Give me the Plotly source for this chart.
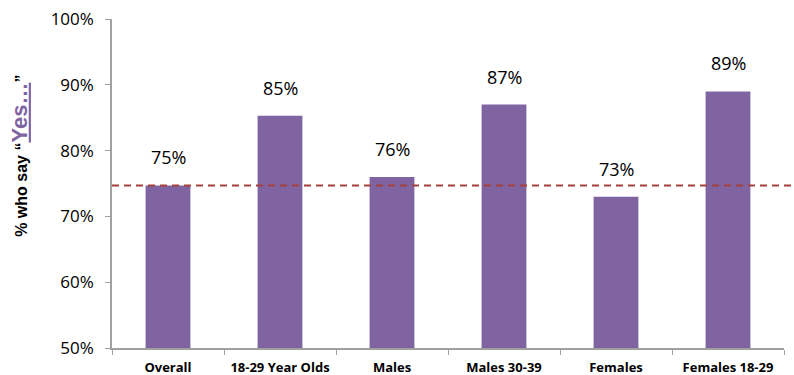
import plotly.graph_objects as go

categories = ["Overall", "18-29 Year Olds", "Males", "Males 30-39", "Females", "Females 18-29"]
values = [74.7, 85.3, 76.0, 87.0, 73.0, 89.0]
labels = ["75%", "85%", "76%", "87%", "73%", "89%"]
reference_value = 74.7
y_ticks = [50, 60, 70, 80, 90, 100]
y_tick_text = ["50%", "60%", "70%", "80%", "90%", "100%"]

purple = "#8064A2"
font_family = "Open Sans, Liberation Sans, sans-serif"

fig = go.Figure()
fig.add_trace(go.Bar(
    x=categories, y=values, marker=dict(color=purple, line=dict(width=0)),
    width=0.4, hoverinfo="skip",
))

for c, v, t in zip(categories, values, labels):
    fig.add_annotation(x=c, y=v, text=t, showarrow=False, yanchor="bottom",
                       yshift=14, font=dict(size=18, color="#000000", family=font_family))

fig.add_shape(type="line", xref="paper", yref="y", x0=0, x1=1.012,
              y0=reference_value, y1=reference_value,
              line=dict(color="#A5403C", width=2, dash="7px,5px"))

# y-axis title as a rotated annotation
fig.add_annotation(
    xref="paper", yref="paper", x=-0.138, y=0.585, xanchor="center", yanchor="middle",
    textangle=-90, showarrow=False,
    text="<b>% who say “<span style='color:#8064A2;font-size:22px'><u>Yes…</u></span>”</b>",
    font=dict(size=16, family="Liberation Sans, Arial, sans-serif", color="#000000"),
)

fig.update_layout(
    width=794, height=375,
    margin=dict(l=112, r=10, t=19, b=27),
    plot_bgcolor="white", paper_bgcolor="white",
    showlegend=False,
    font=dict(family=font_family, color="#000000"),
    xaxis=dict(
        showline=True, linecolor="#A0A0A0", linewidth=1.5,
        ticks="outside", tickson="boundaries", ticklen=5, tickcolor="#A0A0A0",
        tickfont=dict(size=13, family="Open Sans, sans-serif", weight="bold"),
        ticklabelstandoff=7, automargin=False,
        showgrid=False,
    ),
    yaxis=dict(
        range=[50, 100], tickvals=y_ticks, ticktext=y_tick_text,
        showline=True, linecolor="#A0A0A0", linewidth=1.5,
        ticks="outside", ticklen=5, tickcolor="#A0A0A0",
        tickfont=dict(size=17), showgrid=False, zeroline=False,
        ticklabelstandoff=8, automargin=False,
    ),
)

fig.write_html("out.html")
